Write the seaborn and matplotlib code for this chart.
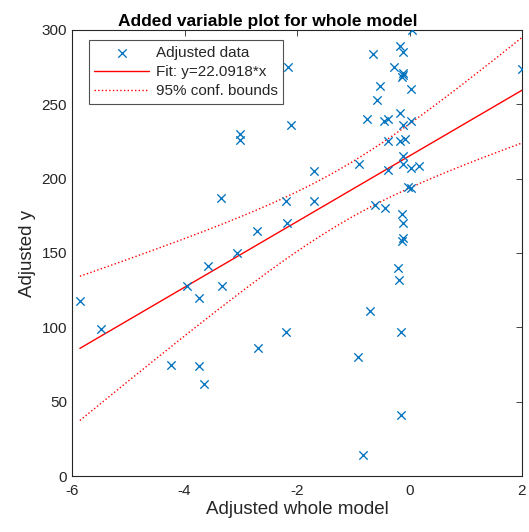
import numpy as np
import pandas as pd
import matplotlib
matplotlib.use("Agg")
import matplotlib.pyplot as plt
import seaborn as sns

# ---- data ----
adj_x = [-5.86, -5.48, -4.24, -3.95, -3.74, -3.58, -3.74, -3.65, -3.34, -3.07,
         -2.70, -2.20, -2.72, -2.16, -2.10, -3.01, -3.01, -1.69, -2.19, -1.69,
         -2.17, -3.35, 0.04, -0.17, -0.11, -0.65, -0.27, -0.12, -0.13, -0.11,
         -0.53, 0.02, -0.57, -0.75, -0.45, -0.39, -0.17, -0.12, 0.02, -0.39,
         -0.17, -0.08, -0.12, -0.12, 0.02, 0.16, -0.39, -0.89, -0.03, 0.02,
         -0.62, -0.43, -0.13, -0.12, -0.12, -0.14, 2.0, -0.21, -0.19, -0.71,
         -0.15, -0.92, -0.15, -0.82]
adj_y = [118, 99, 75, 128, 119.5, 141, 74, 62, 128, 150,
         86, 97, 165, 275, 236, 230, 226, 205, 185, 185,
         170, 187, 300, 289, 285, 284, 275, 271, 268.5, 270,
         262, 260, 253, 240, 239, 240, 244, 236, 239, 225.5,
         225.5, 227, 215, 210, 207.5, 208.5, 206, 210, 194.5, 193.5,
         182, 180, 176.5, 170, 160, 158, 273.5, 140, 132, 111,
         97, 80, 41, 14]

fit_slope = 22.0918
fit_intercept = 215.3
# half-width of 95% bounds: sqrt(a + b*(x - m)^2)
ci_a, ci_b, ci_m = 340.0, 91.5, -1.17

x_ticks = [-6, -4, -2, 0, 2]
y_ticks = [0, 50, 100, 150, 200, 250, 300]

title = "Added variable plot for whole model"
x_label = "Adjusted whole model"
y_label = "Adjusted y"
legend_labels = ["Adjusted data", "Fit: y=22.0918*x", "95% conf. bounds"]

# ---- build tables ----
pts = pd.DataFrame({"x": adj_x, "y": adj_y})
xs = np.linspace(min(adj_x), max(adj_x), 200)
yhat = fit_slope * xs + fit_intercept
hw = np.sqrt(ci_a + ci_b * (xs - ci_m) ** 2)
fit_df = pd.DataFrame({"x": xs, "fit": yhat, "upper": yhat + hw, "lower": yhat - hw})

sns.set_style("white")
plt.rcParams["font.family"] = ["Liberation Sans", "DejaVu Sans"]
plt.rcParams["axes.unicode_minus"] = False

fig = plt.figure(figsize=(5.29, 5.32), dpi=100)
ax = fig.add_axes([72 / 529, 1 - 476 / 532, 450 / 529, 446 / 532])

blue = "#0072BD"
red = "#FF0000"
sns.scatterplot(data=pts, x="x", y="y", marker="x", color=blue, s=36,
                linewidth=0.95, ax=ax, label=legend_labels[0], zorder=3)
sns.lineplot(data=fit_df, x="x", y="fit", color=red, linewidth=1.0, ax=ax,
             label=legend_labels[1], sort=False)
sns.lineplot(data=fit_df, x="x", y="upper", color=red, linewidth=1.0, ax=ax,
             linestyle=":", label=legend_labels[2], sort=False)
sns.lineplot(data=fit_df, x="x", y="lower", color=red, linewidth=1.0, ax=ax,
             linestyle=":", sort=False)

ax.set_xlim(-6, 2)
ax.set_ylim(0, 300)
ax.set_xticks(x_ticks)
ax.set_yticks(y_ticks)
tc = "#262626"
ax.tick_params(direction="in", length=4, width=0.6, colors=tc, labelsize=11,
               top=True, right=True, labeltop=False, labelright=False)
ax.tick_params(axis="x", pad=6)
for sp in ax.spines.values():
    sp.set_color(tc)
    sp.set_linewidth(0.8)
    sp.set_visible(True)

ax.set_xlabel(x_label, fontsize=13.5, color=tc, labelpad=2)
ax.set_ylabel(y_label, fontsize=13.5, color=tc, labelpad=4)
ax.set_title(title, fontsize=12.5, fontweight="bold", color="#000000", pad=3,
             x=0.434)

leg = ax.legend(loc="upper left", bbox_to_anchor=(0.038, 0.977), fontsize=11,
                frameon=True, fancybox=False, borderpad=0.35, labelspacing=0.35,
                handlelength=3.6, handletextpad=0.4, borderaxespad=0)
leg.get_frame().set_edgecolor(tc)
leg.get_frame().set_linewidth(0.8)

fig.savefig("out.png", dpi=100)
